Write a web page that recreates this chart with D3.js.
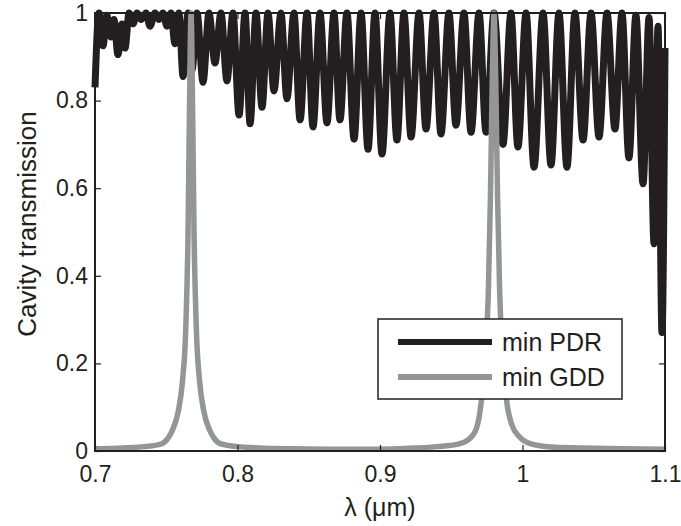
<!DOCTYPE html>
<html>
<head>
<meta charset="utf-8">
<script src="https://cdn.jsdelivr.net/npm/d3@7"></script>
<style>
  html, body { margin: 0; padding: 0; background: #fff; }
  svg { display: block; }
  text { font-family: "Liberation Sans", Arial, Helvetica, sans-serif; fill: #231f20; }
</style>
</head>
<body>
<svg id="chart" width="681" height="526"></svg>
<script>
// Wavelength axis (µm) and tick values
const xTicks = [0.7, 0.8, 0.9, 1.0, 1.1];
const yTicks = [0, 0.2, 0.4, 0.6, 0.8, 1];

// min PDR design: transmission peaks and dips across the band
const pdrLambda = [
  0.7000, 0.7028, 0.7056, 0.7084, 0.7112, 0.7133, 0.7161, 0.7189, 0.7211, 0.7239,
  0.7267, 0.7295, 0.7323, 0.7358, 0.7386, 0.7421, 0.7449, 0.7477, 0.7505, 0.7533,
  0.7561, 0.7589, 0.7618, 0.7653, 0.7681, 0.7716, 0.7758, 0.7800, 0.7842, 0.7884,
  0.7926, 0.7968, 0.8011, 0.8053, 0.8088, 0.8130, 0.8172, 0.8214, 0.8256, 0.8305,
  0.8347, 0.8396, 0.8439, 0.8488, 0.8530, 0.8579, 0.8628, 0.8677, 0.8719, 0.8768,
  0.8818, 0.8867, 0.8916, 0.8965, 0.9014, 0.9070, 0.9119, 0.9168, 0.9218, 0.9274,
  0.9323, 0.9379, 0.9428, 0.9484, 0.9533, 0.9589, 0.9639, 0.9695, 0.9744, 0.9800,
  0.9863, 0.9919, 0.9968, 1.0025, 1.0081, 1.0144, 1.0200, 1.0256, 1.0312, 1.0368,
  1.0425, 1.0481, 1.0537, 1.0593, 1.0649, 1.0698, 1.0747, 1.0796, 1.0846, 1.0888,
  1.0923, 1.0951, 1.0979, 1.1000
];
const pdrT = [
  0.830, 1.000, 0.925, 0.995, 0.945, 0.985, 0.905, 0.975, 0.920, 1.000,
  0.975, 1.000, 0.985, 1.000, 0.970, 1.000, 0.985, 1.000, 0.970, 1.000,
  0.930, 1.000, 0.855, 1.000, 0.870, 1.000, 0.842, 1.000, 0.886, 1.000,
  0.845, 1.000, 0.767, 1.000, 0.747, 1.000, 0.785, 1.000, 0.822, 1.000,
  0.804, 1.000, 0.756, 1.000, 0.740, 1.000, 0.749, 1.000, 0.756, 1.000,
  0.712, 1.000, 0.689, 1.000, 0.678, 1.000, 0.710, 1.000, 0.717, 1.000,
  0.735, 1.000, 0.724, 1.000, 0.744, 1.000, 0.728, 1.000, 0.728, 1.000,
  0.700, 1.000, 0.694, 1.000, 0.648, 1.000, 0.653, 1.000, 0.648, 1.000,
  0.710, 1.000, 0.717, 1.000, 0.735, 1.000, 0.669, 0.995, 0.610, 0.990,
  0.473, 0.970, 0.270, 0.920
];

// min GDD design: two narrow resonances
const gddLambda = [
  0.7000, 0.7200, 0.7350, 0.7464, 0.7514, 0.7544, 0.7584, 0.7614, 0.7637, 0.7653,
  0.7663, 0.7674, 0.7685, 0.7695, 0.7711, 0.7734, 0.7764, 0.7804, 0.7834, 0.7884,
  0.8000, 0.8150, 0.8400, 0.8700, 0.9000, 0.9200, 0.9400, 0.9540, 0.9620, 0.9675,
  0.9712, 0.9740, 0.9760, 0.9775, 0.9788, 0.9800, 0.9812, 0.9825, 0.9840, 0.9860,
  0.9888, 0.9925, 0.9980, 1.0060, 1.0200, 1.0400, 1.0700, 1.1000
];
const gddT = [
  0.005, 0.007, 0.010, 0.016, 0.030, 0.048, 0.090, 0.160, 0.280, 0.500,
  0.780, 1.000, 0.780, 0.500, 0.280, 0.160, 0.090, 0.048, 0.030, 0.016,
  0.010, 0.007, 0.005, 0.004, 0.004, 0.006, 0.010, 0.015, 0.026, 0.050,
  0.116, 0.220, 0.360, 0.580, 0.850, 1.000, 0.850, 0.580, 0.360, 0.220,
  0.116, 0.060, 0.032, 0.016, 0.009, 0.007, 0.005, 0.004
];

const seriesNames = ["min PDR", "min GDD"];
const seriesColors = ["#231f20", "#939598"];

const svg = d3.select("#chart");
const margin = { left: 95, right: 16, top: 13, bottom: 75 };
const W = 681, H = 526;
const x = d3.scaleLinear().domain([0.7, 1.1]).range([margin.left, W - margin.right]);
const y = d3.scaleLinear().domain([0, 1]).range([H - margin.bottom, margin.top]);

const ink = "#231f20";
const tickFs = 23, labelFs = 25;

// curves
const line = d3.line().x(d => x(d[0])).y(d => y(d[1])).curve(d3.curveMonotoneX);
const pdr = d3.zip(pdrLambda, pdrT);
const gdd = d3.zip(gddLambda, gddT);

svg.append("path").datum(pdr).attr("d", line)
  .attr("fill", "none").attr("stroke", seriesColors[0])
  .attr("stroke-width", 7).attr("stroke-linejoin", "round");
svg.append("path").datum(gdd).attr("d", line)
  .attr("fill", "none").attr("stroke", seriesColors[1])
  .attr("stroke-width", 5.5).attr("stroke-linejoin", "round");

// axes with inward ticks, mirrored on top and right
const tick = 6;
const fmt = d => String(+d.toFixed(1));
const axB = svg.append("g").attr("transform", `translate(0,${y(0)})`)
  .call(d3.axisBottom(x).tickValues(xTicks).tickSizeInner(-tick).tickSizeOuter(0).tickPadding(15).tickFormat(fmt));
const axL = svg.append("g").attr("transform", `translate(${x(0.7)},0)`)
  .call(d3.axisLeft(y).tickValues(yTicks).tickSizeInner(-tick).tickSizeOuter(0).tickPadding(7).tickFormat(fmt));
const axT = svg.append("g").attr("transform", `translate(0,${y(1)})`)
  .call(d3.axisTop(x).tickValues(xTicks).tickSizeInner(-tick).tickSizeOuter(0).tickFormat(""));
const axR = svg.append("g").attr("transform", `translate(${x(1.1)},0)`)
  .call(d3.axisRight(y).tickValues(yTicks).tickSizeInner(-tick).tickSizeOuter(0).tickFormat(""));

[axB, axL, axT, axR].forEach(g => {
  g.select(".domain").remove();
  g.selectAll(".tick line").attr("stroke", ink).attr("stroke-width", 1.2);
  g.selectAll(".tick text").attr("font-size", tickFs).attr("fill", ink)
    .style("font-family", '"Liberation Sans", Arial, sans-serif');
});

// plot frame
svg.append("rect")
  .attr("x", x(0.7)).attr("y", y(1))
  .attr("width", x(1.1) - x(0.7)).attr("height", y(0) - y(1))
  .attr("fill", "none").attr("stroke", ink).attr("stroke-width", 2);

// axis titles
svg.append("text")
  .attr("x", (x(0.7) + x(1.1)) / 2).attr("y", 516)
  .attr("text-anchor", "middle").attr("font-size", labelFs)
  .text("λ (μm)");
svg.append("text")
  .attr("transform", `translate(36,${(y(0) + y(1)) / 2 - 8}) rotate(-90)`)
  .attr("text-anchor", "middle").attr("font-size", 26)
  .text("Cavity transmission");

// legend
const lg = svg.append("g").attr("transform", "translate(378,319)");
lg.append("rect").attr("width", 244).attr("height", 80)
  .attr("fill", "#fff").attr("stroke", ink).attr("stroke-width", 1.5);
seriesNames.forEach((name, i) => {
  const cy = 23 + i * 35;
  lg.append("line").attr("x1", 20).attr("x2", 114).attr("y1", cy).attr("y2", cy)
    .attr("stroke", seriesColors[i]).attr("stroke-width", 6);
  lg.append("text").attr("x", 124).attr("y", cy + 9).attr("font-size", labelFs).text(name);
});
</script>
</body>
</html>
